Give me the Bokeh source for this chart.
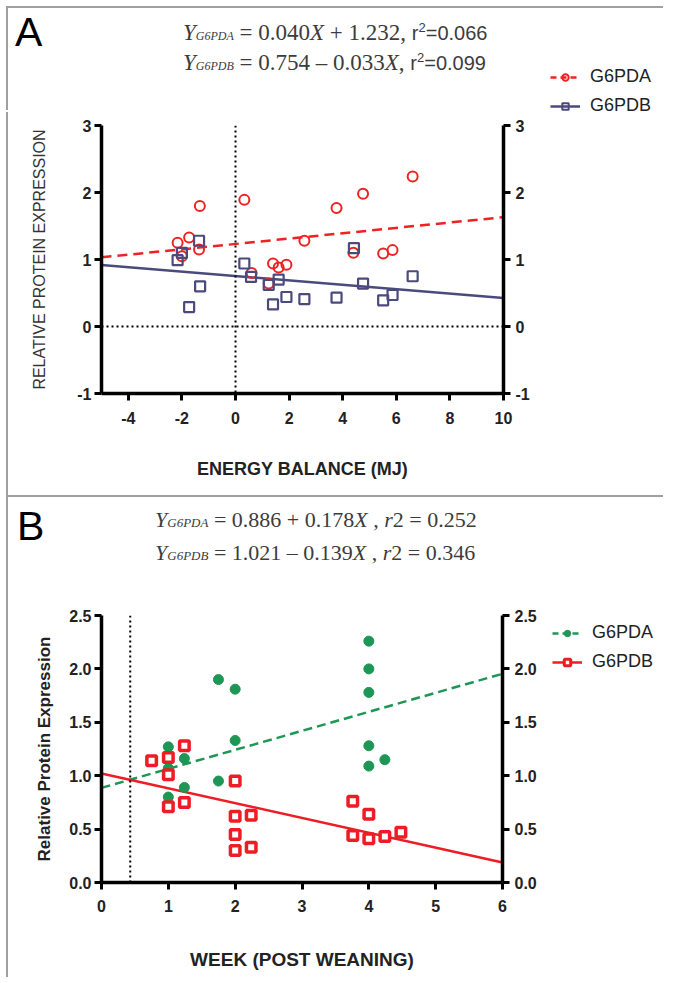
from bokeh.plotting import figure
from bokeh.models import Range1d, LinearAxis, FixedTicker, Span, Legend, LegendItem, Div
from bokeh.layouts import column, row
from bokeh.embed import file_html
from bokeh.resources import INLINE

# ---------------- Panel A data ----------------
a_x_g6pda = [-2.16, -2.0, -1.73, -1.36, -1.33, 0.33, 0.60, 1.24, 1.40, 1.61, 1.90, 2.57, 3.77, 4.40, 4.76, 5.51, 5.86, 6.61]
a_y_g6pda = [1.25, 1.05, 1.33, 1.15, 1.80, 1.89, 0.80, 0.64, 0.94, 0.88, 0.92, 1.28, 1.77, 1.10, 1.98, 1.09, 1.14, 2.24]
a_x_g6pdb = [-2.16, -2.0, -1.73, -1.36, -1.32, 0.33, 0.58, 1.24, 1.40, 1.61, 1.90, 2.57, 3.77, 4.42, 4.76, 5.51, 5.86, 6.61]
a_y_g6pdb = [0.99, 1.10, 0.29, 1.28, 0.60, 0.94, 0.74, 0.62, 0.33, 0.70, 0.44, 0.41, 0.43, 1.17, 0.64, 0.39, 0.47, 0.75]
a_fit_g6pda = (1.232, 0.040)   # intercept, slope
a_fit_g6pdb = (0.754, -0.033)
a_xrange = (-5, 10)
a_yrange = (-1, 3)
a_xticks = [-4, -2, 0, 2, 4, 6, 8, 10]
a_xtick_labels = ["-4", "-2", "0", "2", "4", "6", "8", "10"]
a_yticks = [-1, 0, 1, 2, 3]
a_ytick_labels = ["-1", "0", "1", "2", "3"]
a_eq_sub = ["G6PDA", "G6PDB"]
a_eq_rhs = ["0.040<i>X</i> + 1.232,", "0.754 \u2013 0.033<i>X</i>,"]
a_eq_r2 = ["0.066", "0.099"]

# ---------------- Panel B data ----------------
b_x_g6pda = [0.75, 1.0, 1.0, 1.0, 1.24, 1.24, 1.75, 2.0, 2.0, 1.75, 2.0, 2.0, 4.0, 4.0, 4.0, 4.0, 4.0, 4.24]
b_y_g6pda = [1.14, 1.27, 1.07, 0.80, 1.16, 0.89, 1.90, 1.81, 1.33, 0.95, 0.95, 0.62, 2.26, 2.00, 1.78, 1.28, 1.09, 1.15]
b_x_g6pdb = [0.75, 1.0, 1.0, 1.0, 1.24, 1.24, 2.0, 2.0, 2.0, 2.0, 2.24, 2.24, 3.76, 4.0, 3.76, 4.0, 4.24, 4.48]
b_y_g6pdb = [1.14, 1.17, 1.01, 0.71, 1.28, 0.75, 0.95, 0.62, 0.45, 0.30, 0.63, 0.33, 0.76, 0.64, 0.44, 0.41, 0.43, 0.47]
b_fit_g6pda = (0.886, 0.178)
b_fit_g6pdb = (1.021, -0.139)
b_weaning = 0.43
b_xrange = (0, 6)
b_yrange = (0, 2.5)
b_xticks = [0, 1, 2, 3, 4, 5, 6]
b_xtick_labels = ["0", "1", "2", "3", "4", "5", "6"]
b_yticks = [0, 0.5, 1.0, 1.5, 2.0, 2.5]
b_ytick_labels = ["0.0", "0.5", "1.0", "1.5", "2.0", "2.5"]
b_eq_sub = ["G6PDA", "G6PDB"]
b_eq_rhs = ["0.886 + 0.178<i>X</i> ,", "1.021 \u2013 0.139<i>X</i> ,"]
b_eq_r2 = ["0.252", "0.346"]

RED_A = "#ee2222"
NAVY = "#4b4a7c"
GREEN = "#1e9656"
RED_B = "#ee1c25"
TXT = "#222222"
EQ = "#3c3c3c"
SANS = "Liberation Sans"
SERIF = "Liberation Serif"
BORDER = "2px solid #a0a0a0"


def make_fig(borders, frame_w, frame_h, xr, yr):
    left, right, top, bottom = borders
    p = figure(frame_width=frame_w, frame_height=frame_h, output_backend="svg", toolbar_location=None,
               x_range=Range1d(*xr), y_range=Range1d(*yr),
               min_border_left=left, min_border_right=right,
               min_border_top=top, min_border_bottom=bottom)
    p.outline_line_color = None
    p.xgrid.visible = False
    p.ygrid.visible = False
    p.background_fill_color = "white"
    p.border_fill_color = "white"
    return p


def make_blank(borders, frame_w, frame_h):
    left, right, top, bottom = borders
    h = figure(frame_width=frame_w, frame_height=frame_h, output_backend="svg", toolbar_location=None,
               x_range=Range1d(0, 1), y_range=Range1d(0, 1),
               x_axis_type=None, y_axis_type=None,
               min_border_left=left, min_border_right=right, min_border_top=top, min_border_bottom=bottom)
    h.outline_line_color = None
    h.xgrid.visible = False
    h.ygrid.visible = False
    return h


def style_axis(ax, ticks, labels, standoff):
    ax.ticker = FixedTicker(ticks=ticks)
    ax.major_label_overrides = {t: l for t, l in zip(ticks, labels)}
    ax.axis_line_width = 3.5
    ax.axis_line_color = "black"
    ax.major_tick_line_width = 3
    ax.major_tick_line_color = "black"
    ax.major_tick_out = 7
    ax.major_tick_in = 0
    ax.minor_tick_line_color = None
    ax.major_label_text_font = SANS
    ax.major_label_text_font_style = "bold"
    ax.major_label_text_font_size = "16px"
    ax.major_label_text_color = TXT
    ax.major_label_standoff = standoff
    ax.axis_label_text_color = TXT
    ax.axis_label_text_font = SANS


def add_axes(p, xt, xl, yt, yl, xstand):
    style_axis(p.xaxis[0], xt, xl, xstand)
    style_axis(p.yaxis[0], yt, yl, 3)
    r = LinearAxis()
    style_axis(r, yt, yl, 5)
    p.add_layout(r, "right")


def style_legend(leg):
    leg.label_text_font = SANS
    leg.label_text_font_size = "18px"
    leg.label_text_color = TXT
    leg.background_fill_alpha = 0
    leg.border_line_alpha = 0
    leg.padding = 0
    leg.margin = 0
    leg.spacing = 8
    leg.glyph_width = 30
    leg.glyph_height = 16
    leg.label_height = 16
    leg.label_standoff = 10


def letter_html(letter, left, top):
    return (f"<span style=\"position:absolute;left:{left}px;top:{top}px;font-family:'{SANS}';"
            f"font-size:41px;line-height:41px;color:#000\">{letter}</span>")


def eq_html(left, top, size, subsize, sub, rhs, r2, r2_style):
    if r2_style == "sans":
        r2_part = (f"<span style=\"font-family:'{SANS}';font-size:{size - 3}px\">r"
                   f"<sup style=\"font-size:13px;line-height:0\">2</sup>={r2}</span>")
    else:
        r2_part = f"<i>r</i>2 = {r2}"
    return (f"<div style=\"position:absolute;left:{left}px;top:{top}px;white-space:nowrap;"
            f"font-family:'{SERIF}';font-size:{size}px;line-height:{size + 4}px;color:{EQ}\">"
            f"<i>Y</i><i style=\"font-size:{subsize}px\">{sub}</i> = {rhs} {r2_part}</div>")


# ================= Header A (page y 8..112) =================
htmlA = letter_html("A", 7, 4)
for i in range(2):
    htmlA += eq_html(175, 11 + 30 * i, 23, 12, a_eq_sub[i], a_eq_rhs[i], a_eq_r2[i], "sans")
divA = Div(text=f"<div style=\"position:relative;width:536px;height:104px\">{htmlA}</div>",
           width=536, height=104, margin=(0, 0, 0, 0),
           styles={"border-top": BORDER, "border-left": BORDER})

lfA = make_blank((0, 0, 0, 0), 121, 104)
dlA = lfA.line(x=[0], y=[-5], line_color=RED_A, line_width=2.5, line_dash="6 4")
dcA = lfA.scatter(x=[0], y=[-5], marker="circle", size=9, fill_color=None, line_color=RED_A, line_width=2)
dlB = lfA.line(x=[0], y=[-5], line_color=NAVY, line_width=2.5)
dsB = lfA.scatter(x=[0], y=[-5], marker="square", size=9, fill_color=None, line_color=NAVY, line_width=2)
legA = Legend(items=[LegendItem(label="G6PDA", renderers=[dlA, dcA]),
                     LegendItem(label="G6PDB", renderers=[dlB, dsB])],
              location=(8, -2))
style_legend(legA)
lfA.add_layout(legA)
lfA.styles = {"border-top": BORDER}

# ================= Panel A (page y 112..495) =================
pA = make_fig((93, 150, 13, 102), 400, 268, a_xrange, a_yrange)
add_axes(pA, a_xticks, a_xtick_labels, a_yticks, a_ytick_labels, 11)
pA.yaxis[0].axis_label = "RELATIVE PROTEIN EXPRESSION"
pA.yaxis[0].axis_label_text_font_style = "normal"
pA.yaxis[0].axis_label_text_font_size = "16px"
pA.yaxis[0].axis_label_text_color = "#333333"
pA.yaxis[0].axis_label_standoff = 26
pA.xaxis[0].axis_label = "ENERGY BALANCE (MJ)"
pA.xaxis[0].axis_label_text_font_style = "bold"
pA.xaxis[0].axis_label_text_font_size = "18px"
pA.xaxis[0].axis_label_standoff = 32

pA.add_layout(Span(location=0, dimension="height", line_color="black", line_width=2, line_dash="2 3"))
pA.add_layout(Span(location=0, dimension="width", line_color="black", line_width=2, line_dash="2 3"))
xs = list(a_xrange)
pA.line(xs, [a_fit_g6pda[0] + a_fit_g6pda[1] * x for x in xs], line_color=RED_A, line_width=2.5,
        line_dash="10 6")
pA.line(xs, [a_fit_g6pdb[0] + a_fit_g6pdb[1] * x for x in xs], line_color=NAVY, line_width=2.5)
pA.scatter(a_x_g6pda, a_y_g6pda, marker="circle", size=10, fill_color=None, line_color=RED_A, line_width=2)
pA.scatter(a_x_g6pdb, a_y_g6pdb, marker="square", size=10, fill_color=None, line_color=NAVY, line_width=2.2)
pA.styles = {"border-left": BORDER}

# ================= Header B (page y 497..600) =================
htmlB = letter_html("B", 9, 9)
for i in range(2):
    htmlB += eq_html(147, 10 + 33 * i, 22, 13, b_eq_sub[i], b_eq_rhs[i], b_eq_r2[i], "serif")
divB = Div(text=f"<div style=\"position:relative;width:657px;height:103px\">{htmlB}</div>",
           width=657, height=103, margin=(0, 0, 0, 0),
           styles={"border-top": BORDER, "border-left": BORDER})

# ================= Panel B (page y 600..979) =================
pB = make_fig((93, 38, 17, 95), 399, 267, b_xrange, b_yrange)
add_axes(pB, b_xticks, b_xtick_labels, b_yticks, b_ytick_labels, 10)
pB.yaxis[0].axis_label = "Relative Protein Expression"
pB.yaxis[0].axis_label_text_font_style = "bold"
pB.yaxis[0].axis_label_text_font_size = "17px"
pB.yaxis[0].axis_label_standoff = 12
pB.xaxis[0].axis_label = "WEEK (POST WEANING)"
pB.xaxis[0].axis_label_text_font_style = "bold"
pB.xaxis[0].axis_label_text_font_size = "19px"
pB.xaxis[0].axis_label_standoff = 34

pB.add_layout(Span(location=b_weaning, dimension="height", line_color="black", line_width=2, line_dash="2 3"))
xs = list(b_xrange)
pB.line(xs, [b_fit_g6pda[0] + b_fit_g6pda[1] * x for x in xs], line_color=GREEN, line_width=2.5,
        line_dash="9 5")
pB.line(xs, [b_fit_g6pdb[0] + b_fit_g6pdb[1] * x for x in xs], line_color=RED_B, line_width=2.5)
pB.scatter(b_x_g6pda, b_y_g6pda, marker="circle", size=10, fill_color=GREEN, line_color=GREEN)
pB.scatter(b_x_g6pdb, b_y_g6pdb, marker="square", size=9.5, fill_color="white", line_color=RED_B,
           line_width=3.5)
pB.styles = {"border-left": BORDER}

# legend figure to the right of panel B, same vertical structure as pB
lfB = make_blank((0, 0, 17, 95), 127, 267)
glA = lfB.line(x=[0], y=[-5], line_color=GREEN, line_width=2.5, line_dash="6 4")
ggA = lfB.scatter(x=[0], y=[-5], marker="circle", size=9, fill_color=GREEN, line_color=GREEN)
glB = lfB.line(x=[0], y=[-5], line_color=RED_B, line_width=2.5)
grB = lfB.scatter(x=[0], y=[-5], marker="square", size=8, fill_color="white", line_color=RED_B, line_width=3)
legB = Legend(items=[LegendItem(label="G6PDA", renderers=[glA, ggA]),
                     LegendItem(label="G6PDB", renderers=[glB, grB])],
              location=(14, 210))
style_legend(legB)
lfB.add_layout(legB)

layout = column(row(divA, lfA, spacing=0), pA, divB, row(pB, lfB, spacing=0), spacing=0)
layout.margin = (6, 0, 0, 6)
open("out.html", "w").write(file_html(layout, INLINE))
